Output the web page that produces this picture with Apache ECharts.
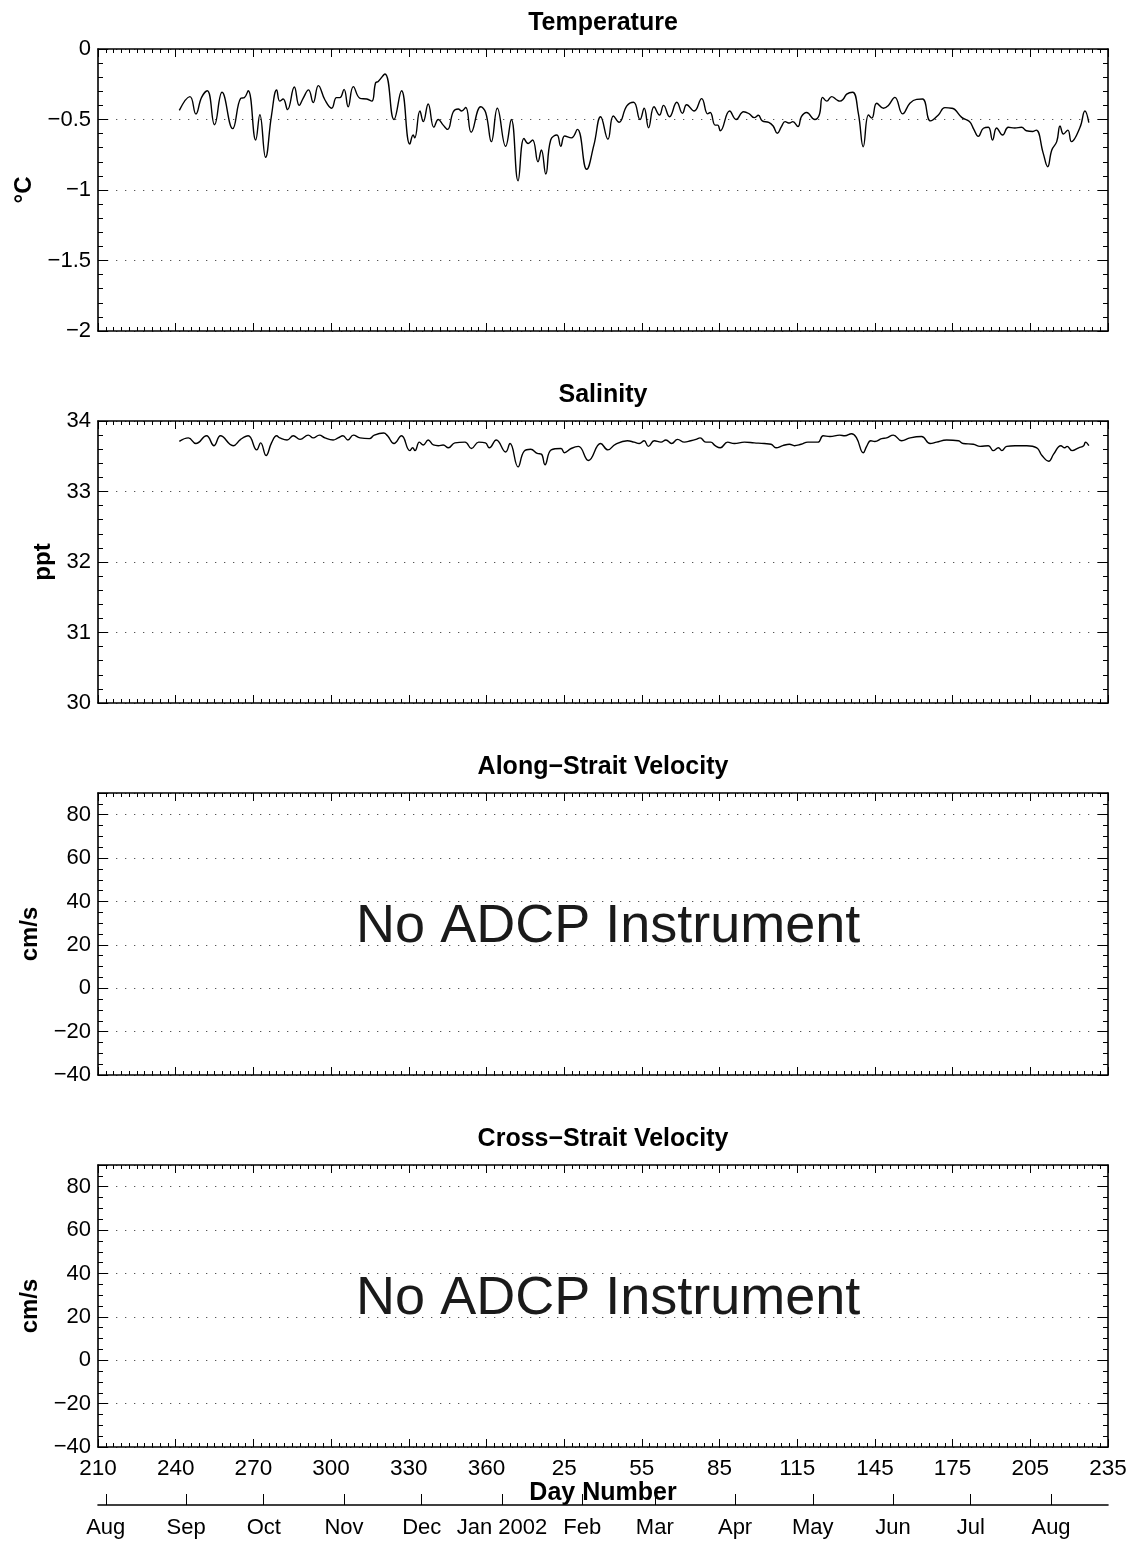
<!DOCTYPE html>
<html>
<head>
<meta charset="utf-8">
<script src="https://cdn.jsdelivr.net/npm/echarts@6/dist/echarts.min.js"></script>
<style>
  html, body { margin: 0; padding: 0; background: #fff; }
  #chart { width: 1133px; height: 1541px; }
</style>
</head>
<body>
<div id="chart"></div>
<script>
// Mooring record: bottom temperature and salinity, Aug 2001 - Aug 2002.
// Day numbers run continuously from 210 (2001) past 365 into 2002.

const tempDay = [241.4,245.5,247.8,250.0,252.2,255.0,257.9,262.0,265.1,266.5,268.0,270.9,272.5,274.7,277.0,279.0,280.2,281.5,283.2,285.8,287.7,289.2,291.3,293.1,295.1,297.6,300.2,302.1,303.4,305.0,306.6,308.6,311.2,313.8,315.7,317.2,318.2,320.8,324.3,327.2,330.4,331.7,332.3,334.3,335.6,337.5,339.7,341.4,343.3,345.0,347.2,349.1,350.4,352.0,354.1,357.8,359.7,361.9,364.2,367.4,369.6,372.2,374.5,376.1,377.8,379.9,381.2,382.9,384.8,387.2,388.7,390.2,392.8,395.1,398.7,401.5,404.1,406.9,409.0,411.2,414.2,416.8,419.3,420.9,422.6,424.7,426.8,428.4,430.7,433.5,435.7,437.3,440.2,443.1,445.4,446.4,448.3,449.3,450.3,453.9,456.4,459.3,461.5,463.4,465.0,466.5,469.0,470.7,472.3,473.9,475.3,477.0,478.3,480.3,481.6,483.6,486.8,488.5,489.8,491.4,493.3,495.2,496.5,497.8,499.1,501.4,503.6,505.5,507.5,508.8,510.7,513.3,515.2,517.7,520.7,523.5,526.1,528.4,531.5,534.5,537.0,539.6,540.9,543.5,546.5,548.2,549.9,551.9,553.8,555.4,557.0,559.3,561.5,564.0,566.6,568.5,571.0,572.3,575.0,576.7,578.3,580.2,581.5,582.8,584.5,585.9,589.2,591.1,592.6];
const tempVal = [-0.435,-0.338,-0.461,-0.343,-0.296,-0.537,-0.307,-0.565,-0.350,-0.345,-0.296,-0.645,-0.466,-0.768,-0.470,-0.290,-0.370,-0.355,-0.430,-0.270,-0.400,-0.350,-0.290,-0.380,-0.260,-0.360,-0.420,-0.345,-0.345,-0.286,-0.410,-0.267,-0.350,-0.355,-0.370,-0.240,-0.230,-0.177,-0.500,-0.296,-0.674,-0.610,-0.630,-0.440,-0.515,-0.390,-0.555,-0.500,-0.540,-0.570,-0.445,-0.425,-0.440,-0.415,-0.590,-0.410,-0.450,-0.657,-0.420,-0.690,-0.500,-0.934,-0.634,-0.670,-0.645,-0.800,-0.716,-0.887,-0.645,-0.610,-0.690,-0.617,-0.630,-0.570,-0.853,-0.680,-0.480,-0.640,-0.475,-0.520,-0.404,-0.378,-0.500,-0.420,-0.558,-0.410,-0.468,-0.400,-0.480,-0.378,-0.456,-0.395,-0.440,-0.352,-0.460,-0.450,-0.540,-0.540,-0.580,-0.440,-0.500,-0.445,-0.460,-0.487,-0.470,-0.510,-0.520,-0.546,-0.598,-0.550,-0.515,-0.525,-0.515,-0.550,-0.480,-0.450,-0.500,-0.468,-0.343,-0.370,-0.338,-0.360,-0.370,-0.355,-0.320,-0.307,-0.456,-0.693,-0.468,-0.490,-0.385,-0.420,-0.400,-0.343,-0.460,-0.385,-0.357,-0.355,-0.510,-0.468,-0.416,-0.420,-0.430,-0.485,-0.515,-0.570,-0.620,-0.562,-0.555,-0.645,-0.560,-0.610,-0.555,-0.560,-0.555,-0.580,-0.585,-0.575,-0.740,-0.835,-0.716,-0.657,-0.546,-0.603,-0.575,-0.657,-0.555,-0.440,-0.523];

const salDay = [241.4,244.9,247.8,251.9,254.8,257.3,262.2,265.1,268.0,271.3,272.8,274.9,277.0,279.0,280.2,283.0,285.4,288.0,291.2,293.1,295.5,297.6,300.8,302.7,304.6,306.5,308.6,311.2,314.8,316.7,320.3,321.8,324.3,327.2,330.4,331.5,332.4,334.1,335.6,337.5,339.5,341.4,343.3,345.3,347.8,351.7,354.2,357.0,359.6,361.1,363.8,367.4,369.1,372.2,374.5,377.1,379.6,381.2,382.6,385.0,388.8,390.1,392.7,395.5,399.4,404.1,406.9,409.8,414.4,417.0,419.0,420.9,422.5,424.8,427.4,429.3,431.5,433.8,436.4,438.9,440.9,442.5,444.7,446.6,448.3,450.3,453.1,455.7,459.6,463.4,467.3,469.9,471.8,474.4,477.0,478.9,481.5,484.1,488.0,490.0,492.6,496.4,498.4,501.0,502.9,505.5,506.8,508.4,510.0,512.6,514.5,517.1,520.3,523.6,528.0,531.3,533.8,537.7,542.2,544.1,548.0,550.6,553.8,555.7,557.7,559.0,560.9,564.1,568.6,572.5,574.5,577.1,579.0,581.8,583.3,584.2,586.1,588.7,590.6,591.3,592.6];
const salVal = [33.71,33.76,33.68,33.79,33.65,33.79,33.65,33.74,33.79,33.59,33.69,33.51,33.69,33.79,33.76,33.73,33.79,33.74,33.80,33.76,33.80,33.76,33.73,33.76,33.79,33.73,33.80,33.76,33.75,33.80,33.83,33.79,33.68,33.79,33.58,33.62,33.58,33.70,33.66,33.73,33.66,33.65,33.66,33.62,33.69,33.70,33.61,33.70,33.69,33.62,33.73,33.56,33.68,33.35,33.57,33.60,33.54,33.53,33.38,33.59,33.61,33.55,33.61,33.64,33.44,33.68,33.59,33.67,33.72,33.70,33.68,33.72,33.64,33.72,33.70,33.73,33.68,33.74,33.70,33.72,33.74,33.76,33.70,33.70,33.65,33.62,33.70,33.68,33.70,33.69,33.68,33.67,33.62,33.65,33.67,33.65,33.67,33.70,33.70,33.79,33.78,33.80,33.79,33.82,33.76,33.55,33.64,33.72,33.71,33.75,33.76,33.80,33.72,33.76,33.78,33.68,33.70,33.73,33.72,33.68,33.67,33.64,33.65,33.58,33.62,33.58,33.64,33.65,33.65,33.62,33.51,33.43,33.53,33.65,33.62,33.64,33.58,33.62,33.65,33.70,33.65];

// Day-number axis: 210 (2001) to 235 (2002), labelled every 30 days
const dayMin = 210, dayMax = 600, dayStep = 30;

// First day of each month on the same continuous day scale
const monthStart = [213, 244, 274, 305, 335, 366, 397, 425, 456, 486, 517, 547, 578];
const monthName = ['Aug', 'Sep', 'Oct', 'Nov', 'Dec', 'Jan 2002', 'Feb', 'Mar', 'Apr', 'May', 'Jun', 'Jul', 'Aug'];

const panelTitle = ['Temperature', 'Salinity', 'Along\u2212Strait Velocity', 'Cross\u2212Strait Velocity'];
const panelUnit = ['\u00B0C', 'ppt', 'cm/s', 'cm/s'];
const yMin = [-2, 30, -40, -40];
const yMax = [0, 34, 90, 90];
const yStep = [0.5, 1, 20, 20];
const yMinorSplit = [5, 5, 4, 4];

const noteText = 'No ADCP Instrument';
const notePos = [407, 28];

// ---- layout ----
const FONT = '"Liberation Sans", Arial, Helvetica, sans-serif';
const LEFT = 98, RIGHT = 25, PANEL_H = 282;
const panelTop = [49, 421, 793, 1165];
const unitGap = [62, 42, 46, 46];

const black = '#000';
const axisLine = { show: true, onZero: false, lineStyle: { color: black, width: 1.6 } };
const dotted = { show: true, lineStyle: { color: '#555', width: 1, type: [1.3, 7.7] } };
const minus = v => String(v).replace('-', '\u2212');
const dayLabel = v => String(v > 365 ? v - 365 : v);

const grids = [], xAxes = [], yAxes = [], series = [];

for (let i = 0; i < 4; i++) {
  grids.push({ left: LEFT, right: RIGHT, top: panelTop[i], height: PANEL_H });

  const xBase = {
    gridIndex: i, type: 'value', min: dayMin, max: dayMax, interval: dayStep,
    axisLine: axisLine,
    axisTick: { show: true, inside: true, length: 8, lineStyle: { color: black, width: 1 } },
    minorTick: { show: true, splitNumber: 10, length: 4, lineStyle: { color: black, width: 1 } },
    splitLine: { show: false }
  };
  xAxes.push(Object.assign({}, xBase, {
    position: 'bottom',
    axisLabel: {
      show: i === 3, formatter: dayLabel, margin: 10, showMinLabel: true, showMaxLabel: true,
      fontFamily: FONT, fontSize: 22.5, color: black
    },
    name: i === 3 ? 'Day Number' : '',
    nameLocation: 'middle', nameGap: 33,
    nameTextStyle: { fontFamily: FONT, fontSize: 25, fontWeight: 'bold', color: black }
  }));
  xAxes.push(Object.assign({}, xBase, {
    position: 'top',
    axisLabel: { show: false },
    name: panelTitle[i], nameLocation: 'middle', nameGap: 13,
    nameTextStyle: { fontFamily: FONT, fontSize: 25, fontWeight: 'bold', color: black }
  }));

  const yBase = {
    gridIndex: i, type: 'value', min: yMin[i], max: yMax[i], interval: yStep[i],
    axisLine: axisLine,
    axisTick: { show: true, inside: true, length: 10, lineStyle: { color: black, width: 1 } },
    minorTick: { show: true, splitNumber: yMinorSplit[i], length: 5, lineStyle: { color: black, width: 1 } }
  };
  yAxes.push(Object.assign({}, yBase, {
    position: 'left',
    axisLabel: {
      formatter: minus, margin: 7, showMinLabel: true, showMaxLabel: i < 2,
      fontFamily: FONT, fontSize: 22, color: black
    },
    splitLine: dotted,
    name: panelUnit[i], nameLocation: 'middle', nameRotate: 90, nameGap: unitGap[i],
    nameTextStyle: { fontFamily: FONT, fontSize: 24, fontWeight: 'bold', color: black }
  }));
  yAxes.push(Object.assign({}, yBase, {
    position: 'right',
    axisLabel: { show: false },
    splitLine: { show: false }
  }));
}

// Calendar strip under the bottom panel
grids.push({ left: LEFT, right: RIGHT, top: 1495, height: 10 });
xAxes.push({
  gridIndex: 4, type: 'value', min: dayMin, max: dayMax, position: 'bottom',
  axisLine: { show: true, onZero: false, lineStyle: { color: black, width: 1.6 } },
  axisTick: { show: true, inside: true, length: 11, customValues: monthStart, lineStyle: { color: black, width: 1 } },
  axisLabel: {
    customValues: monthStart, margin: 12,
    formatter: v => monthName[monthStart.indexOf(v)],
    fontFamily: FONT, fontSize: 22, color: black
  },
  splitLine: { show: false }
});
yAxes.push({ gridIndex: 4, type: 'value', show: false, min: 0, max: 1 });

series.push({
  type: 'line', xAxisIndex: 0, yAxisIndex: 0,
  data: tempDay.map((d, k) => [d, tempVal[k]]),
  smooth: 0.45, showSymbol: false, symbol: 'none',
  lineStyle: { color: black, width: 1.4 }
});
series.push({
  type: 'line', xAxisIndex: 2, yAxisIndex: 2,
  data: salDay.map((d, k) => [d, salVal[k]]),
  smooth: 0.45, showSymbol: false, symbol: 'none',
  lineStyle: { color: black, width: 1.4 }
});
[2, 3].forEach(i => {
  series.push({
    type: 'scatter', xAxisIndex: 2 * i, yAxisIndex: 2 * i,
    data: [notePos], symbolSize: 0, silent: true,
    itemStyle: { opacity: 1 },
    label: {
      show: true, position: 'inside', formatter: noteText,
      fontFamily: FONT, fontSize: 54, color: '#1a1a1a', opacity: 1
    }
  });
});

const chart = echarts.init(document.getElementById('chart'), null, { renderer: 'canvas' });
chart.setOption({
  animation: false,
  backgroundColor: '#fff',
  grid: grids,
  xAxis: xAxes,
  yAxis: yAxes,
  series: series
});
</script>
</body>
</html>
